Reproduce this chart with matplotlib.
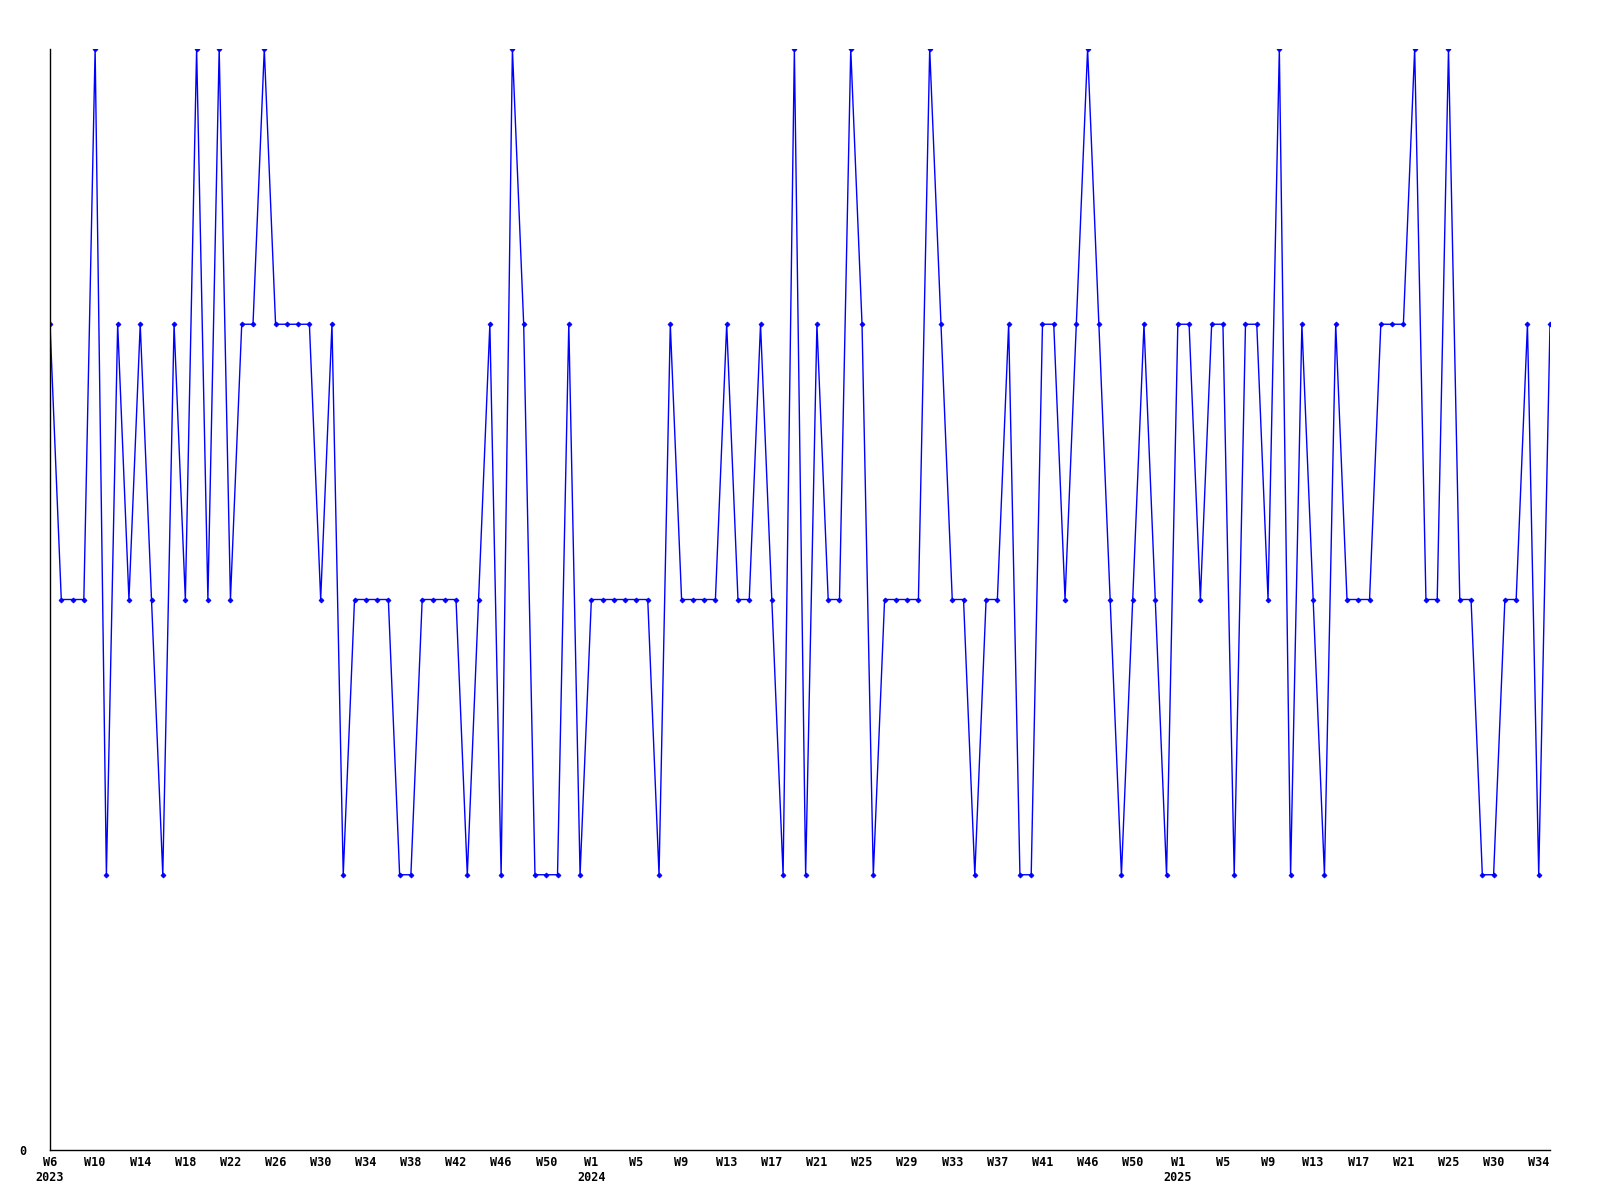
import matplotlib
matplotlib.use("Agg")
import matplotlib.pyplot as plt
import numpy as np

# weekly values, 2023 W6 .. 2025 W35
values = [3, 2, 2, 2, 4, 1, 3, 2, 3, 2,
          1, 3, 2, 4, 2, 4, 2, 3, 3, 4,
          3, 3, 3, 3, 2, 3, 1, 2, 2, 2,
          2, 1, 1, 2, 2, 2, 2, 1, 2, 3,
          1, 4, 3, 1, 1, 1, 3, 1, 2, 2,
          2, 2, 2, 2, 1, 3, 2, 2, 2, 2,
          3, 2, 2, 3, 2, 1, 4, 1, 3, 2,
          2, 4, 3, 1, 2, 2, 2, 2, 4, 3,
          2, 2, 1, 2, 2, 3, 1, 1, 3, 3,
          2, 3, 4, 3, 2, 1, 2, 3, 2, 1,
          3, 3, 2, 3, 3, 1, 3, 3, 2, 4,
          1, 3, 2, 1, 3, 2, 2, 2, 3, 3,
          3, 4, 2, 2, 4, 2, 2, 1, 1, 2,
          2, 3, 1, 3]

week_labels = ["W6", "W10", "W14", "W18", "W22", "W26", "W30", "W34", "W38",
               "W42", "W46", "W50",
               "W1", "W5", "W9", "W13", "W17", "W21", "W25", "W29", "W33",
               "W37", "W41", "W46", "W50",
               "W1", "W5", "W9", "W13", "W17", "W21", "W25", "W30", "W34"]
year_labels = {0: "2023", 12: "2024", 25: "2025"}

x = np.arange(len(values))

fig = plt.figure(figsize=(16, 12), dpi=100)
ax = fig.add_axes([50 / 1600, 1 - 1150 / 1200, 1500 / 1600, 1101 / 1200])

ax.plot(x, values, color="#0000ff", linewidth=1.0, marker="D", markersize=2.5,
        markeredgewidth=0.6)

ax.set_xlim(0, len(values) - 1)
ax.set_ylim(0, max(values))

labels = []
for i, w in enumerate(week_labels):
    if i in year_labels:
        labels.append(w + "\n" + year_labels[i])
    else:
        labels.append(w)
ax.set_xticks(x[::4][:len(week_labels)], labels)
ax.set_yticks([0], ["0"])

for t in ax.get_xticklabels() + ax.get_yticklabels():
    t.set_fontfamily("DejaVu Sans Mono")
    t.set_fontweight("bold")
    t.set_fontsize(8.5)
    t.set_linespacing(1.15)

ax.tick_params(axis="x", length=0, pad=4.5)
ax.tick_params(axis="y", length=0, pad=17)

for s in ["top", "right"]:
    ax.spines[s].set_visible(False)
for s in ["left", "bottom"]:
    ax.spines[s].set_color("black")
    ax.spines[s].set_linewidth(1.0)

fig.savefig("out.png", dpi=100, facecolor="white")
